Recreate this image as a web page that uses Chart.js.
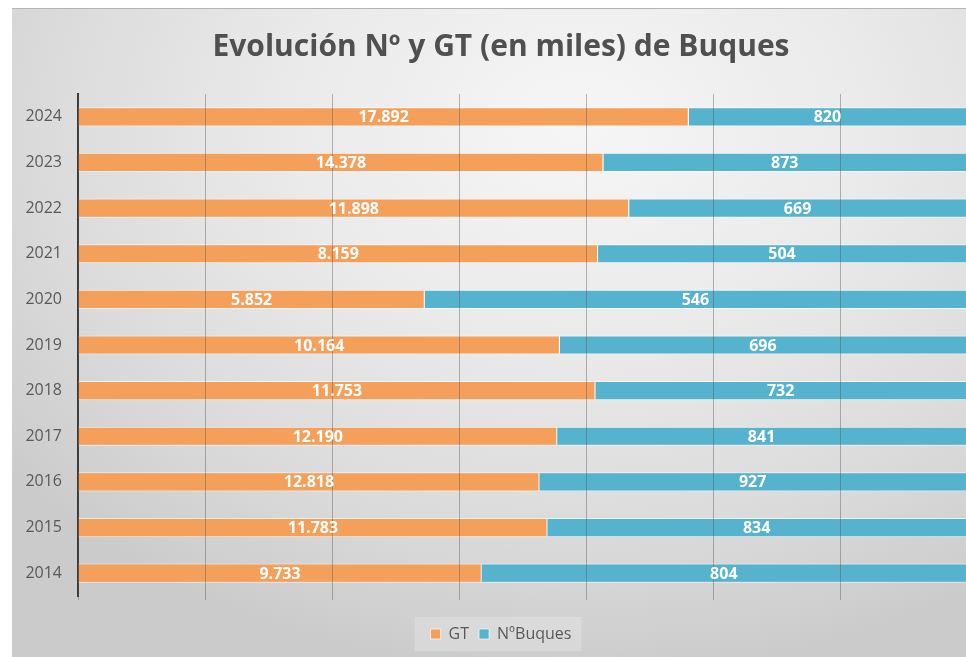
<!DOCTYPE html>
<html>
<head>
<meta charset="utf-8">
<script src="https://cdn.jsdelivr.net/npm/chart.js@4/dist/chart.umd.min.js"></script>
<style>
  html, body { margin: 0; padding: 0; background: #ffffff; overflow: hidden; width: 966px; height: 657px; }
  #panel {
    position: absolute; left: 12px; top: 8px; width: 978px; height: 649px;
    border-top: 1px solid #b4b4b4;
    background: radial-gradient(ellipse 75% 85% at 58% 18%, #f6f6f6 0%, #eaeaea 40%, #dadada 75%, #cbcbcb 100%);
  }
  #c { display: block; }
</style>
</head>
<body>
<div id="panel"><canvas id="c" width="978" height="648"></canvas></div>
<script>
// Categories (top to bottom)
const years = ['2024','2023','2022','2021','2020','2019','2018','2017','2016','2015','2014'];
// Printed values
const gtLabels = ['17.892','14.378','11.898','8.159','5.852','10.164','11.753','12.190','12.818','11.783','9.733'];
const buquesLabels = ['820','873','669','504','546','696','732','841','927','834','804'];
// Bar shares (percent of the full bar)
const gtShare = [68.7, 59.1, 62.0, 58.5, 39.0, 54.2, 58.2, 53.9, 51.9, 52.8, 45.4];
const buquesShare = [31.3, 40.9, 38.0, 41.5, 61.0, 45.8, 41.8, 46.1, 48.1, 47.2, 54.6];
const seriesNames = ['GT', 'NºBuques'];

const FONT = "'Open Sans', 'DejaVu Sans', sans-serif";

// Center title and legend over the whole panel (the right part is cut by the window)
const recenter = {
  id: 'recenter',
  afterLayout(chart) {
    if (chart.titleBlock) chart.titleBlock.left += 23;
    if (chart.legend) chart.legend.left += 23;
  }
};

const legendBg = {
  id: 'legendBg',
  beforeDraw(chart) {
    const hb = chart.legend && chart.legend.legendHitBoxes;
    if (!hb || !hb.length) return;
    const ctx = chart.ctx;
    let l = Infinity, r = -Infinity, t = Infinity, b = -Infinity;
    hb.forEach(h => { l = Math.min(l, h.left); r = Math.max(r, h.left + h.width); t = Math.min(t, h.top); b = Math.max(b, h.top + h.height); });
    ctx.save();
    ctx.fillStyle = 'rgba(255,255,255,0.22)';
    ctx.fillRect(l - 16, t - 9, (r - l) + 26, (b - t) + 18);
    ctx.restore();
  }
};

const barLabels = {
  id: 'barLabels',
  afterDraw(chart) {
    const ctx = chart.ctx;
    const area = chart.chartArea;
    const texts = [gtLabels, buquesLabels];
    ctx.save();
    ctx.font = "bold 16px " + FONT;
    ctx.fillStyle = '#ffffff';
    ctx.textAlign = 'center';
    ctx.textBaseline = 'middle';
    chart.data.datasets.forEach((ds, di) => {
      const meta = chart.getDatasetMeta(di);
      meta.data.forEach((bar, i) => {
        const left = Math.max(Math.min(bar.base, bar.x), area.left);
        const right = Math.min(Math.max(bar.base, bar.x), 966 - 12);
        ctx.fillText(texts[di][i], (left + right) / 2, bar.y + 1);
      });
    });
    ctx.restore();
  }
};

new Chart(document.getElementById('c'), {
  type: 'bar',
  data: {
    labels: years,
    datasets: [
      { label: seriesNames[0], data: gtShare, backgroundColor: '#F5A05A', borderColor: 'rgba(255,255,255,0.65)', borderWidth: 1 },
      { label: seriesNames[1], data: buquesShare, backgroundColor: '#55B3CE', borderColor: 'rgba(255,255,255,0.65)', borderWidth: 1 }
    ]
  },
  options: {
    indexAxis: 'y',
    responsive: false,
    animation: false,
    layout: { padding: { left: 0, right: 23, top: 0, bottom: 5 } },
    datasets: { bar: { barPercentage: 0.42, categoryPercentage: 1 } },
    scales: {
      x: {
        stacked: true, min: 0, max: 100,
        afterBuildTicks(scale) { scale.ticks = [0,1,2,3,4,5,6,7].map(i => ({ value: i * 100 / 7 })); },
        afterFit(scale) { scale.height = 20; },
        ticks: { display: false },
        grid: { color: 'rgba(80,80,80,0.4)', lineWidth: 1, drawTicks: true, tickLength: 4, z: 1 },
        border: { display: false }
      },
      y: {
        stacked: true,
        z: 1,
        afterFit(scale) { scale.width = 66; },
        ticks: { color: '#595959', font: { family: FONT, size: 16 }, padding: 16 },
        grid: { display: false, drawTicks: false },
        border: { display: true, color: '#3a3a3a', width: 2 }
      }
    },
    plugins: {
      title: {
        display: true,
        text: 'Evolución Nº y GT (en miles) de Buques',
        color: '#505050',
        font: { family: FONT, size: 30, weight: 'bold', lineHeight: 1.2 },
        padding: { top: 20, bottom: 29 }
      },
      legend: {
        position: 'bottom',
        labels: { color: '#595959', font: { family: FONT, size: 16 }, boxWidth: 10, boxHeight: 10, padding: 10 }
      },
      tooltip: { enabled: false }
    }
  },
  plugins: [recenter, legendBg, barLabels]
});
</script>
</body>
</html>
